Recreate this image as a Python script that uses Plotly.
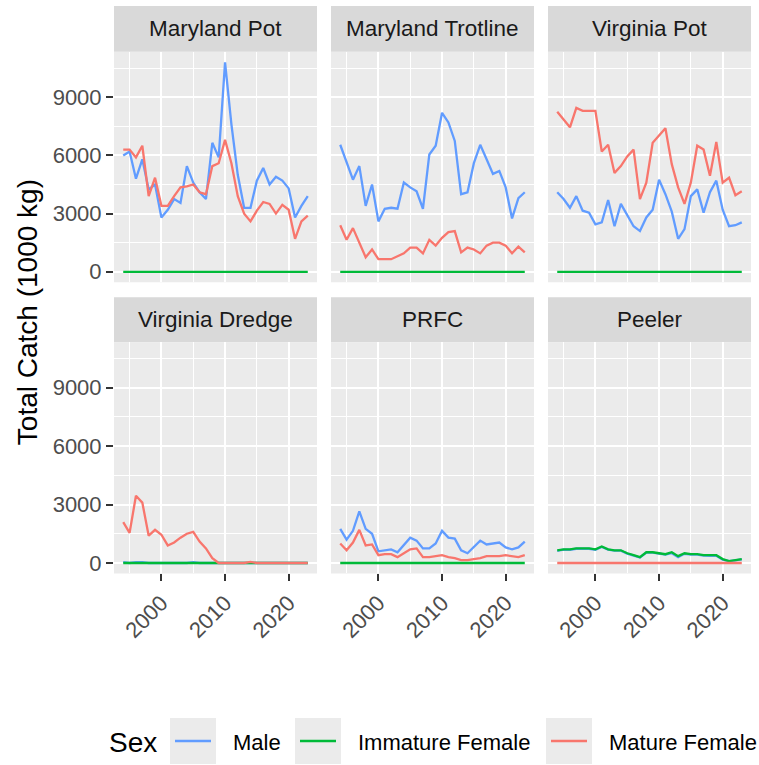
import plotly.graph_objs as go

# data (1000 kg)
years = list(range(1994, 2024))

panel_names = ["Maryland Pot", "Maryland Trotline", "Virginia Pot",
               "Virginia Dredge", "PRFC", "Peeler"]

md_pot_male = [6000, 6200, 4800, 5800, 4250, 4500, 2800, 3200, 3750, 3550,
               5450, 4600, 4100, 3750, 6650, 5900, 10800, 7600, 5000, 3300,
               3300, 4700, 5350, 4500, 4900, 4700, 4300, 2800, 3400, 3900]
md_pot_imm = [0] * 30
md_pot_mat = [6300, 6300, 5900, 6500, 3900, 4850, 3400, 3400, 3900, 4350,
              4400, 4500, 4100, 4000, 5450, 5600, 6800, 5600, 3900, 3000,
              2600, 3150, 3600, 3500, 3000, 3450, 3200, 1700, 2600, 2900]

md_trot_male = [6550, 5600, 4750, 5450, 3400, 4500, 2600, 3250, 3300, 3250,
                4600, 4350, 4150, 3250, 6050, 6500, 8200, 7700, 6750, 4000,
                4100, 5600, 6550, 5800, 5050, 5200, 4350, 2750, 3800, 4100]
md_trot_imm = [0] * 30
md_trot_mat = [2400, 1650, 2250, 1500, 750, 1150, 650, 650, 650, 800,
               950, 1250, 1250, 950, 1650, 1350, 1750, 2050, 2100, 1000,
               1250, 1150, 950, 1350, 1500, 1500, 1350, 950, 1300, 1000]

va_pot_male = [4100, 3750, 3300, 3900, 3150, 3050, 2450, 2550, 3700, 2350,
               3500, 2950, 2350, 2100, 2800, 3200, 4750, 4000, 3100, 1700,
               2200, 3900, 4250, 3050, 4100, 4700, 3200, 2350, 2400, 2550]
va_pot_imm = [0] * 30
va_pot_mat = [8250, 7850, 7450, 8450, 8300, 8300, 8300, 6200, 6550, 5100,
              5450, 5950, 6300, 3750, 4600, 6650, 7000, 7400, 5550, 4350,
              3500, 4600, 6500, 6300, 4950, 6700, 4600, 4850, 3950, 4150]

va_dredge_male = [40, 0, 40, 40, 0, 0, 0, 0, 0, 0,
                  0, 40, 0, 0, 0, 0, 0, 0, 0, 0,
                  0, 0, 0, 0, 0, 0, 0, 0, 0, 0]
va_dredge_imm = [0, 0, 0, 0, 0, 0, 0, 0, 0, 0,
                 0, 0, 0, 0, 0, 0, 0, 0, 0, 0,
                 20, 0, 0, 0, 0, 0, 0, 0, 0, 0]
va_dredge_mat = [2100, 1550, 3450, 3100, 1400, 1700, 1450, 900, 1050, 1300,
                 1500, 1600, 1100, 750, 250, 0, 0, 0, 0, 0,
                 60, 0, 0, 0, 0, 0, 0, 0, 0, 0]

prfc_male = [1750, 1200, 1650, 2650, 1750, 1500, 600, 650, 700, 550,
             950, 1300, 1150, 750, 750, 1000, 1650, 1300, 1250, 650,
             500, 800, 1150, 950, 1000, 1050, 800, 700, 800, 1100]
prfc_imm = [0] * 30
prfc_mat = [1000, 650, 1050, 1700, 900, 950, 400, 450, 450, 300,
            500, 700, 750, 300, 300, 350, 400, 300, 250, 150,
            150, 200, 250, 350, 350, 350, 400, 350, 300, 400]

peeler_male = [620, 680, 680, 730, 730, 730, 680, 820, 680, 630,
               630, 480, 380, 280, 530, 530, 480, 430, 500, 300,
               470, 430, 430, 380, 370, 370, 170, 100, 130, 180]
peeler_imm = [650, 700, 700, 750, 750, 750, 700, 850, 700, 650,
              650, 500, 400, 300, 550, 550, 500, 450, 550, 350,
              500, 450, 450, 400, 400, 400, 200, 100, 150, 200]
peeler_mat = [0] * 30

series_names = ["Male", "Immature Female", "Mature Female"]
series_colors = ["#619CFF", "#00BA38", "#F8766D"]

panel_data = [
    (md_pot_male, md_pot_imm, md_pot_mat),
    (md_trot_male, md_trot_imm, md_trot_mat),
    (va_pot_male, va_pot_imm, va_pot_mat),
    (va_dredge_male, va_dredge_imm, va_dredge_mat),
    (prfc_male, prfc_imm, prfc_mat),
    (peeler_male, peeler_imm, peeler_mat),
]

W, H = 759, 765
FONT = "Liberation Sans, Arial, sans-serif"


def px_x(v):
    return v / W


def px_y(v):
    return 1 - v / H


# panel geometry in pixels
col_edges = [(114, 317), (331, 534), (548, 751)]
row_edges = [(52, 283), (343, 575)]
strip_edges = [(6, 52), (298, 343)]

fig = go.Figure()
shapes = []
annotations = []

for i, name in enumerate(panel_names):
    r, c = divmod(i, 3)
    s = "" if i == 0 else str(i + 1)
    for vals, sname, col in zip(panel_data[i], series_names, series_colors):
        fig.add_trace(go.Scatter(
            x=years, y=vals, mode="lines", name=sname,
            line=dict(color=col, width=2.3),
            xaxis="x" + s, yaxis="y" + s, showlegend=False,
        ))
    x0, x1 = col_edges[c]
    y0, y1 = row_edges[r]
    fig.layout["xaxis" + s] = dict(
        domain=[px_x(x0), px_x(x1)], anchor="y" + s,
        range=[1992.55, 2024.45], tickmode="linear", tick0=2000, dtick=10,
        tickformat="d",
        showgrid=True, gridcolor="white", gridwidth=1.7, zeroline=False,
        minor=dict(showgrid=True, gridcolor="white", gridwidth=0.8,
                   tick0=1995, dtick=5),
        ticks="outside" if r == 1 else "", ticklen=7, tickwidth=1.5,
        tickcolor="#333333", showticklabels=(r == 1), tickangle=-45,
        tickfont=dict(size=22, color="#4D4D4D", family=FONT),
        showline=False,
    )
    fig.layout["yaxis" + s] = dict(
        domain=[px_y(y1), px_y(y0)], anchor="x" + s,
        range=[-540, 11340], tickmode="linear", tick0=0, dtick=3000,
        tickformat="d",
        showgrid=True, gridcolor="white", gridwidth=1.7, zeroline=False,
        minor=dict(showgrid=True, gridcolor="white", gridwidth=0.8,
                   tick0=0, dtick=1500),
        ticks="outside" if c == 0 else "", ticklen=7, tickwidth=1.5,
        tickcolor="#333333", showticklabels=(c == 0),
        tickfont=dict(size=22, color="#4D4D4D", family=FONT),
        showline=False,
    )
    # strip
    sy0, sy1 = strip_edges[r]
    shapes.append(dict(type="rect", xref="paper", yref="paper",
                       x0=px_x(x0), x1=px_x(x1), y0=px_y(sy1), y1=px_y(sy0),
                       fillcolor="#D9D9D9", line=dict(width=0), layer="below"))
    annotations.append(dict(text=name, xref="paper", yref="paper",
                            x=px_x((x0 + x1) / 2), y=px_y((sy0 + sy1) / 2),
                            showarrow=False, xanchor="center", yanchor="middle",
                            font=dict(size=22.5, color="#1A1A1A", family=FONT)))

# y axis title
annotations.append(dict(text="Total Catch (1000 kg)", xref="paper", yref="paper",
                        x=px_x(27), y=px_y(313), textangle=-90, showarrow=False,
                        xanchor="center", yanchor="middle",
                        font=dict(size=28, color="black", family=FONT)))

# legend drawn by hand (ggplot style keys)
annotations.append(dict(text="Sex", xref="paper", yref="paper",
                        x=px_x(107), y=px_y(744), showarrow=False,
                        xanchor="left", yanchor="middle",
                        font=dict(size=28, color="black", family=FONT)))
key_left = [170, 295, 546]
for kx, sname, col in zip(key_left, series_names, series_colors):
    shapes.append(dict(type="rect", xref="paper", yref="paper",
                       x0=px_x(kx), x1=px_x(kx + 46), y0=px_y(766), y1=px_y(720),
                       fillcolor="#EBEBEB", line=dict(width=0)))
    shapes.append(dict(type="line", xref="paper", yref="paper",
                       x0=px_x(kx + 5), x1=px_x(kx + 41), y0=px_y(743), y1=px_y(743),
                       line=dict(color=col, width=2.5)))
    annotations.append(dict(text=sname, xref="paper", yref="paper",
                            x=px_x(kx + 61), y=px_y(744), showarrow=False,
                            xanchor="left", yanchor="middle",
                            font=dict(size=22, color="black", family=FONT)))

fig.update_layout(
    width=W, height=H,
    margin=dict(l=0, r=0, t=0, b=0),
    paper_bgcolor="white", plot_bgcolor="#EBEBEB",
    font=dict(family=FONT),
    shapes=shapes, annotations=annotations,
    showlegend=False,
)

# the page body has a default 8px margin; drop it so the figure fills the window
fig.write_html("out.html", config={"displayModeBar": False},
               post_script="document.body.style.margin='0';")
